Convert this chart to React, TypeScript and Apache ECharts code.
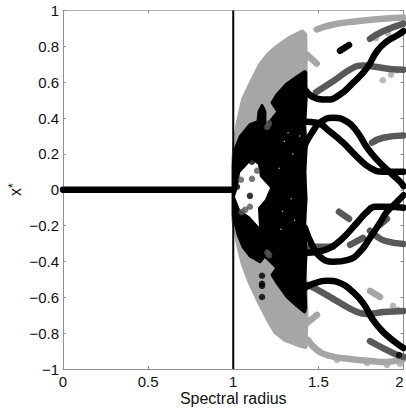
import React, { useEffect, useRef } from "react";
import * as echarts from "echarts";

const LIGHT = "#a6a6a6";
const DARK = "#595959";
const BLACK = "#000000";

const xTicks = ["0", "0.5", "1", "1.5", "2"];
const yTicks = ["\u22121", "\u22120.8", "\u22120.6", "\u22120.4", "\u22120.2", "0", "0.2", "0.4", "0.6", "0.8", "1"];

const lightCloud = [
  [1.0, 0.168], [1.01, 0.279], [1.028, 0.38], [1.057, 0.503], [1.098, 0.587], [1.157, 0.698], [1.204, 0.754],
  [1.257, 0.799], [1.333, 0.849], [1.405, 0.883], [1.423, 0.866], [1.426, 0.726], [1.42, 0.4], [1.42, -0.4],
  [1.43, -0.7], [1.425, -0.877], [1.38, -0.866], [1.304, -0.838], [1.245, -0.793], [1.198, -0.715], [1.145, -0.615],
  [1.098, -0.52], [1.057, -0.419], [1.028, -0.307], [1.0, -0.168],
];
const blackCloud = [
  [1.0, 0.14], [1.01, 0.223], [1.04, 0.296], [1.098, 0.363], [1.145, 0.38], [1.151, 0.436], [1.169, 0.469],
  [1.186, 0.436], [1.186, 0.358], [1.216, 0.38], [1.263, 0.436], [1.228, 0.486], [1.257, 0.531], [1.316, 0.592],
  [1.374, 0.631], [1.42, 0.659], [1.426, 0.655], [1.428, 0.5], [1.418, 0.35], [1.43, 0.25], [1.42, 0.1],
  [1.428, -0.05], [1.418, -0.2], [1.428, -0.35], [1.42, -0.5], [1.426, -0.66], [1.42, -0.682], [1.374, -0.648],
  [1.316, -0.598], [1.257, -0.52], [1.228, -0.475], [1.257, -0.436], [1.186, -0.369], [1.157, -0.402], [1.098, -0.369],
  [1.057, -0.318], [1.028, -0.251], [1.0, -0.14],
];
const hole = [
  [1.11, 0.168], [1.145, 0.14], [1.157, 0.073], [1.216, 0.011], [1.186, -0.056], [1.145, -0.101], [1.151, -0.207],
  [1.098, -0.151], [1.04, -0.112], [1.01, -0.039], [1.028, 0.017], [1.04, 0.095],
];

const zeroLine = [[0, 0], [0.25, 0], [0.5, 0], [0.75, 0], [1.0, 0]];
const unitLine = [[1, -1], [1, 1]];

const lightCurves = [
  [[1.49, 0.894], [1.586, 0.922], [1.727, 0.94], [1.88, 0.954], [2, 0.961]],
  [[1.439, -0.838], [1.492, -0.894], [1.568, -0.927], [1.686, -0.944], [1.803, -0.955], [1.903, -0.961], [2, -0.944]],
  [[1.433, 0.754], [1.49, 0.704]],
  [[1.433, -0.743], [1.492, -0.698]],
  [[1.803, -0.564], [1.862, -0.598]],
];
const lightDots = [
  [1.838, 0.845], [1.909, 0.872], [1.878, 0.611], [1.927, 0.642], [1.962, 0.666], [1.938, -0.648], [1.968, -0.67],
  [1.609, -0.95], [1.786, -0.966], [1.903, -0.978], [1.98, -0.972],
];

const darkCurves = [
  [[1.803, 0.842], [1.88, 0.884], [2, 0.927]],
  [[1.486, 0.544], [1.586, 0.605], [1.703, 0.68], [1.762, 0.693], [1.844, 0.685], [1.92, 0.674], [2, 0.67]],
  [[1.815, 0.263], [1.88, 0.29], [2, 0.303]],
  [[1.433, -0.318], [1.586, -0.318]],
  [[1.686, -0.307], [1.762, -0.268]],
  [[1.803, -0.229], [1.838, -0.257], [1.891, -0.285], [2, -0.302]],
  [[1.621, -0.123], [1.68, -0.162]],
  [[1.862, -0.196], [1.903, -0.162]],
  [[1.439, -0.531], [1.527, -0.575], [1.627, -0.631], [1.727, -0.682], [1.786, -0.693], [1.88, -0.682], [2, -0.676]],
  [[1.803, -0.844], [1.88, -0.883], [1.95, -0.916], [2, -0.933]],
];
const darkDots = [
  [1.14, 0.106], [1.11, 0.061], [1.045, 0.056], [1.098, -0.095], [1.07, -0.112], [1.05, -0.125],
  [1.21, 0.37], [1.2, 0.35], [1.21, -0.365], [1.2, -0.35],
];

const blackCurves = [
  [[1.627, 0.775], [1.68, 0.808]],
  [[1.421, 0.559], [1.468, 0.518], [1.551, 0.503], [1.627, 0.531], [1.703, 0.596], [1.786, 0.68], [1.844, 0.773], [1.903, 0.828], [1.962, 0.86], [2, 0.885]],
  [[1.421, 0.251], [1.462, 0.318], [1.51, 0.374], [1.586, 0.402], [1.668, 0.38], [1.727, 0.324], [1.786, 0.235], [1.844, 0.168], [1.903, 0.112], [1.98, 0.045], [2, 0.02]],
  [[1.421, 0.38], [1.49, 0.374], [1.568, 0.324], [1.645, 0.263], [1.727, 0.184], [1.803, 0.123], [1.88, 0.101], [2, 0.101]],
  [[1.421, -0.212], [1.462, -0.307], [1.51, -0.374], [1.586, -0.402], [1.674, -0.391], [1.744, -0.346], [1.803, -0.268], [1.862, -0.184], [1.903, -0.123], [1.962, -0.067], [2, -0.03]],
  [[1.433, -0.352], [1.49, -0.346], [1.568, -0.324], [1.645, -0.268], [1.727, -0.184], [1.786, -0.123], [1.833, -0.095], [1.903, -0.095], [2, -0.1]],
  [[1.421, -0.547], [1.468, -0.525], [1.551, -0.508], [1.627, -0.52], [1.703, -0.57], [1.762, -0.631], [1.821, -0.726], [1.88, -0.793], [1.95, -0.849], [2, -0.883]],
];
const blackDots = [
  [1.11, 0.156], [1.098, -0.034], [1.022, 0.017], [1.169, -0.48], [1.169, -0.525], [1.169, -0.536], [1.169, -0.598],
  [1.169, 0.447], [1.169, 0.408], [1.974, -0.922],
];
const specks = [
  [1.322, 0.318], [1.27, 0.12], [1.35, 0.2], [1.36, -0.17], [1.29, -0.12], [1.28, -0.22], [1.34, -0.05], [1.39, 0.3], [1.3, 0.27],
];

function polygonSeries(pts: number[][], fill: string, stroke: number, z: number) {
  return {
    type: "custom",
    coordinateSystem: "cartesian2d",
    silent: true,
    z,
    clip: true,
    data: pts,
    encode: { x: 0, y: 1 },
    renderItem: (params: any, api: any) =>
      params.dataIndex === 0
        ? {
            type: "polygon",
            shape: { points: pts.map((p) => api.coord(p)) },
            style: { fill, stroke: stroke ? fill : "none", lineWidth: stroke, lineJoin: "round" },
          }
        : null,
  };
}

function curveSeries(curves: number[][][], color: string, width: number, z: number) {
  return curves.map((data) => ({
    type: "line",
    data,
    smooth: 0.5,
    z,
    silent: true,
    showSymbol: false,
    lineStyle: { color, width, cap: "round", join: "round" },
  }));
}

function dotSeries(data: number[][], color: string, size: number, z: number) {
  return { type: "scatter", data, symbol: "circle", symbolSize: size, itemStyle: { color }, z, silent: true };
}

const axisGray = "#8f8f8f";
const tickStyle = { lineStyle: { color: axisGray, width: 1 }, length: 3, inside: true, show: true };
const labelStyle = { color: "#111111", fontSize: 15, fontFamily: "Liberation Sans" };

export default function App() {
  const ref = useRef<HTMLDivElement>(null);
  useEffect(() => {
    const chart = echarts.init(ref.current!, undefined, { renderer: "svg" });
    chart.setOption({
      animation: false,
      backgroundColor: "#ffffff",
      grid: { left: 63, top: 10.5, width: 340.5, height: 358.5, containLabel: false, outerBoundsMode: "none" },
      xAxis: [
        {
          type: "value", min: 0, max: 2, interval: 0.5, splitLine: { show: false },
          axisLine: { show: true, onZero: false, lineStyle: { color: axisGray, width: 1 } },
          axisTick: tickStyle,
          axisLabel: {
            ...labelStyle, margin: 5, hideOverlap: false, alignMaxLabel: "right",
            formatter: (_: number, i: number) => xTicks[i],
          },
          name: "Spectral radius", nameLocation: "middle", nameGap: 21, nameMoveOverlap: false,
          nameTextStyle: { color: "#111111", fontSize: 16, fontFamily: "Liberation Sans" },
        },
        {
          type: "value", position: "top", min: 0, max: 2, interval: 0.5, splitLine: { show: false },
          axisLine: { show: true, onZero: false, lineStyle: { color: "#b0b0b0", width: 1 } },
          axisTick: tickStyle, axisLabel: { show: false },
        },
      ],
      yAxis: [
        {
          type: "value", min: -1, max: 1, interval: 0.2, splitLine: { show: false },
          axisLine: { show: true, onZero: false, lineStyle: { color: axisGray, width: 1 } },
          axisTick: tickStyle,
          axisLabel: { ...labelStyle, margin: 4, formatter: (_: number, i: number) => yTicks[i] },
          name: "{a|x}{b|*}", nameLocation: "middle", nameGap: 40, nameRotate: 90, nameMoveOverlap: false,
          nameTextStyle: {
            rich: {
              a: { color: "#111111", fontSize: 16, fontFamily: "Liberation Sans" },
              b: { color: "#111111", fontSize: 12, fontFamily: "Liberation Sans", verticalAlign: "top", lineHeight: 12 },
            },
          },
        },
        {
          type: "value", position: "right", min: -1, max: 1, interval: 0.2, splitLine: { show: false },
          axisLine: { show: true, onZero: false, lineStyle: { color: axisGray, width: 1 } },
          axisTick: tickStyle, axisLabel: { show: false },
        },
      ],
      series: [
        polygonSeries(lightCloud, LIGHT, 4, 2),
        ...curveSeries(lightCurves, LIGHT, 6.5, 3),
        dotSeries(lightDots, LIGHT, 6.5, 3),
        ...curveSeries(darkCurves, DARK, 6.5, 4),
        polygonSeries(blackCloud, BLACK, 3, 5),
        polygonSeries(hole, "#ffffff", 0, 6),
        dotSeries(darkDots, DARK, 6.5, 7),
        ...curveSeries(blackCurves, BLACK, 6.5, 8),
        ...curveSeries([zeroLine], BLACK, 6.5, 8),
        dotSeries(blackDots, BLACK, 6.5, 9),
        dotSeries(specks, "#ffffff", 1.3, 9),
        { type: "line", data: unitLine, z: 10, silent: true, showSymbol: false, lineStyle: { color: BLACK, width: 2 } },
      ],
    });
    return () => chart.dispose();
  }, []);
  return <div ref={ref} style={{ position: "fixed", left: 0, top: 0, width: 406, height: 408 }} />;
}
